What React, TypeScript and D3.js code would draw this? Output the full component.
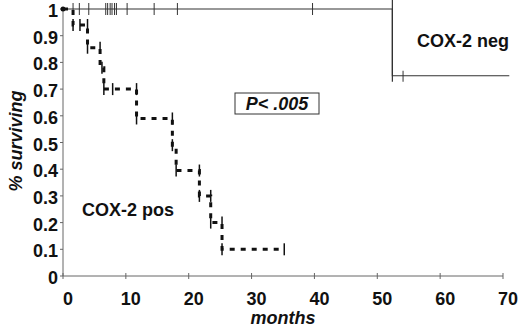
import React from 'react';
import * as d3 from 'd3';

// COX-2 neg: solid curve
const negTimes = [0, 52.4];
const negSurv = [1, 0.75];
const negEnd = 71;
const negCensor = [1.6, 2.6, 4.1, 6.8, 7.1, 7.5, 7.8, 8.2, 8.5, 10.2, 14.5, 18.2, 39.7];
const negCensorLow = [54.1];

// COX-2 pos: dashed curve
const posTimes = [0, 1.6, 3.9, 5.9, 6.5, 11.7, 17.4, 18.0, 21.7, 23.5, 25.3];
const posSurv = [1, 0.94, 0.855, 0.78, 0.70, 0.59, 0.49, 0.395, 0.30, 0.20, 0.10];
const posEnd = 35.2;
const posCensorT = [1.6, 2.7, 3.9, 3.9, 5.9, 6.2, 6.5, 7.9, 11.7, 11.7, 17.4, 17.4, 18.0, 21.7, 21.7, 23.5, 23.5, 25.3, 25.3, 35.2];
const posCensorS = [0.94, 0.94, 0.94, 0.855, 0.855, 0.78, 0.70, 0.70, 0.70, 0.59, 0.59, 0.49, 0.395, 0.395, 0.30, 0.30, 0.20, 0.20, 0.10, 0.10];

const xTicks = [0, 10, 20, 30, 40, 50, 60, 70];
const yTicks = [0, 0.1, 0.2, 0.3, 0.4, 0.5, 0.6, 0.7, 0.8, 0.9, 1];

const stepPts = (times, surv, end) => {
  const pts = [];
  times.forEach((t, i) => {
    if (i > 0) pts.push([t, surv[i - 1]]);
    pts.push([t, surv[i]]);
  });
  pts.push([end, surv[surv.length - 1]]);
  return pts;
};

const App = () => {
  const width = 520, height = 329;
  const x = d3.scaleLinear().domain([0, 70]).range([63, 503]);
  const y = d3.scaleLinear().domain([0, 1]).range([276, 9]);
  const line = d3.line().x(d => x(d[0])).y(d => y(d[1]));
  const font = 'Arial, "Liberation Sans", sans-serif';
  const axisColor = '#666';

  const negPath = line(stepPts(negTimes, negSurv, negEnd));
  const posPath = line(stepPts(posTimes, posSurv, posEnd));

  return (<svg width={width} height={height} style={{position: 'absolute', left: 0, top: 0, background: '#fff'}}
    fontFamily={font} fontWeight="bold">
    {/* axes */}
    <line x1={x(0)} x2={x(70)} y1={y(0)} y2={y(0)} stroke={axisColor} strokeWidth="1" />
    <line x1={x(0)} x2={x(0)} y1={y(0)} y2={y(1)} stroke={axisColor} strokeWidth="1" />
    {xTicks.map(t => <g key={'x' + t}>
      <line x1={x(t)} x2={x(t)} y1={y(0) - 3} y2={y(0) + 3} stroke={axisColor} />
      <text x={x(t) + 5} y={305} textAnchor="middle" fontSize="18" fill="#111">{t}</text>
    </g>)}
    {yTicks.map(t => <g key={'y' + t}>
      <line x1={x(0) - 3} x2={x(0)} y1={y(t)} y2={y(t)} stroke={axisColor} />
      <text x={58} y={y(t) + 8} textAnchor="end" fontSize="18" fill="#111">{d3.format('~g')(t)}</text>
    </g>)}
    <text x={283} y={324} textAnchor="middle" fontSize="18" fontStyle="italic" fill="#111">months</text>
    <text transform="translate(22, 141) rotate(-90)" textAnchor="middle" fontSize="18" fontStyle="italic" fill="#111">% surviving</text>

    {/* COX-2 neg */}
    <path d={negPath} fill="none" stroke="#333" strokeWidth="1.2" />
    <line x1={x(52.4)} x2={x(52.4)} y1={y(1) - 9} y2={y(0.75) + 6} stroke="#333" strokeWidth="1.2" />
    {negCensor.map((t, i) => <line key={'nc' + i} x1={x(t)} x2={x(t)} y1={y(1) - 6} y2={y(1) + 6} stroke="#333" strokeWidth="1" />)}
    {negCensorLow.map((t, i) => <line key={'ncl' + i} x1={x(t)} x2={x(t)} y1={y(0.75) - 5} y2={y(0.75) + 6} stroke="#333" strokeWidth="1" />)}
    <circle cx={x(0)} cy={y(1)} r="2.5" fill="#111" />

    {/* COX-2 pos */}
    <path d={posPath} fill="none" stroke="#111" strokeWidth="3" strokeDasharray="5,6" />
    {posCensorT.map((t, i) => <line key={'pc' + i} x1={x(t)} x2={x(t)} y1={y(posCensorS[i]) - 6} y2={y(posCensorS[i]) + 6} stroke="#111" strokeWidth="1.5" />)}

    {/* labels */}
    <text x={417} y={47} fontSize="18" fill="#111">COX-2 neg</text>
    <text x={82} y={216} fontSize="18" fill="#111">COX-2 pos</text>
    <rect x={235} y={93} width={84} height={21} fill="none" stroke="#333" strokeWidth="1" />
    <text x={277} y={110} textAnchor="middle" fontSize="18" fontStyle="italic" fill="#111">P&lt; .005</text>
  </svg>);
};

export default App;
